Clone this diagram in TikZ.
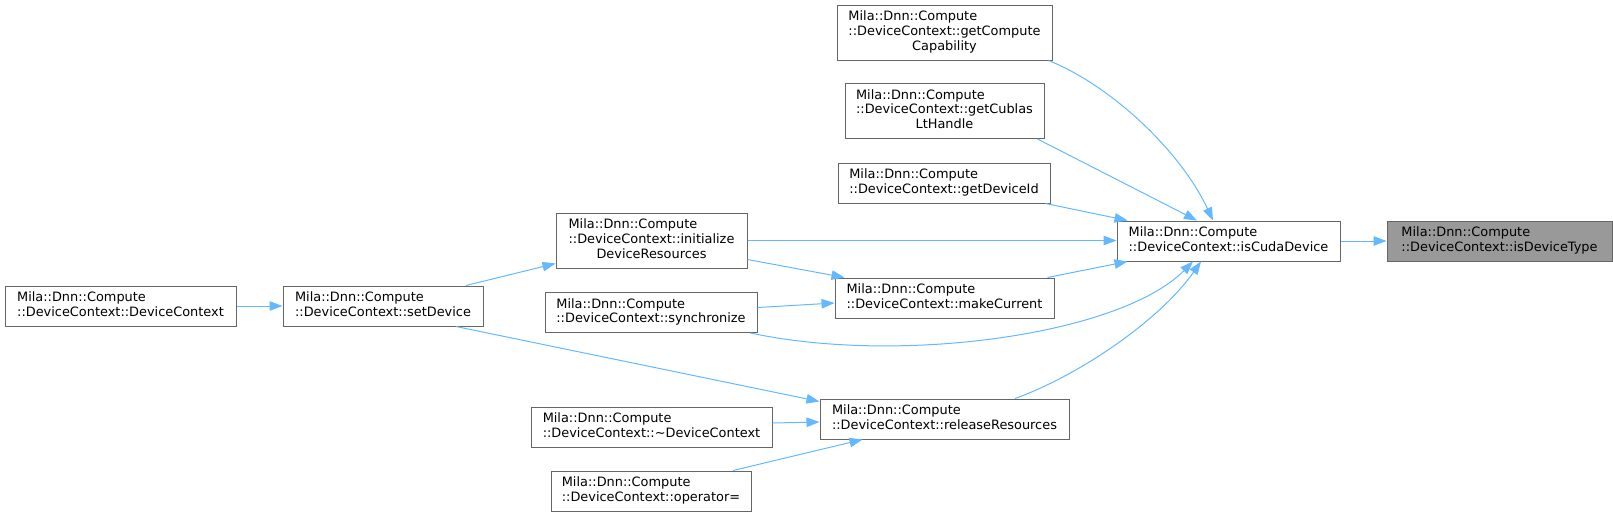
\documentclass[tikz,border=0pt]{standalone}
\usepackage{fontspec}
\setmainfont{DejaVu Sans}
\usetikzlibrary{arrows.meta, calc}
\usepackage{xcolor}
\definecolor{edgeblue}{RGB}{99,184,255}
\definecolor{boxgray}{RGB}{102,102,102}
\definecolor{rootgray}{RGB}{153,153,153}
\newcommand{\fnlabel}[2]{\begin{tabular}{@{}l@{}}#1\\\multicolumn{1}{@{}c@{}}{#2}\end{tabular}}

\begin{document}
\begin{tikzpicture}[
                x=1pt, y=-1pt,
                funcnode/.style={shape=rectangle, draw=boxgray, fill=white, line width=1pt, inner sep=0pt, font=\fontsize{12.9}{14.7}\selectfont},
                rootnode/.style={funcnode, fill=rootgray},
                callarrow/.style={draw=edgeblue, line width=1pt, -{Triangle[length=13pt, width=9.5pt]}}
                ]
                \useasboundingbox (0,0) rectangle (1613,517);

                %% Nodes
                \node[rootnode, minimum width=225pt, minimum height=40pt] (devtype) at (1499.5,241) {\fnlabel{Mila::Dnn::Compute}{::DeviceContext::isDeviceType}};
                \node[funcnode, minimum width=223pt, minimum height=40pt] (iscuda) at (1228.5,241) {\fnlabel{Mila::Dnn::Compute}{::DeviceContext::isCudaDevice}};

                \node[funcnode, minimum width=215pt, minimum height=55pt] (getcc) at (944.5,32.5) {\fnlabel{Mila::Dnn::Compute\\::DeviceContext::getCompute}{Capability}};
                \node[funcnode, minimum width=199pt, minimum height=55pt] (getcublas) at (944.5,111) {\fnlabel{Mila::Dnn::Compute\\::DeviceContext::getCublas}{LtHandle}};
                \node[funcnode, minimum width=212pt, minimum height=40pt] (getid) at (944,183) {\fnlabel{Mila::Dnn::Compute}{::DeviceContext::getDeviceId}};
                \node[funcnode, minimum width=219pt, minimum height=40pt] (makecur) at (944.5,298) {\fnlabel{Mila::Dnn::Compute}{::DeviceContext::makeCurrent}};
                \node[funcnode, minimum width=249pt, minimum height=40pt] (release) at (944.5,419) {\fnlabel{Mila::Dnn::Compute}{::DeviceContext::releaseResources}};

                \node[funcnode, minimum width=191pt, minimum height=55pt] (initres) at (651.5,240.5) {\fnlabel{Mila::Dnn::Compute\\::DeviceContext::initialize}{DeviceResources}};
                \node[funcnode, minimum width=212pt, minimum height=40pt] (sync) at (651,312.5) {\fnlabel{Mila::Dnn::Compute}{::DeviceContext::synchronize}};
                \node[funcnode, minimum width=241pt, minimum height=40pt] (dtor) at (651.5,427) {\fnlabel{Mila::Dnn::Compute}{::DeviceContext::\textasciitilde DeviceContext}};
                \node[funcnode, minimum width=200pt, minimum height=40pt] (opassign) at (651,491) {\fnlabel{Mila::Dnn::Compute}{::DeviceContext::operator=}};

                \node[funcnode, minimum width=200pt, minimum height=40pt] (setdev) at (383,306) {\fnlabel{Mila::Dnn::Compute}{::DeviceContext::setDevice}};
                \node[funcnode, minimum width=231pt, minimum height=40pt] (ctor) at (120.5,306) {\fnlabel{Mila::Dnn::Compute}{::DeviceContext::DeviceContext}};

                %% Calls
                \draw[callarrow] (iscuda.east) -- (devtype.west);

                % into isCudaDevice
                \draw[callarrow] ($(getcc.south east)+(-4,0)$) .. controls (1110,85) and (1180,150) .. ($(iscuda.north)+(-15.5,0)$);
                \draw[callarrow] ($(getcublas.south east)+(-7,0)$) -- ($(iscuda.north)+(-31.5,0)$);
                \draw[callarrow] ($(getid.south east)+(-5,0)$) -- ($(iscuda.north west)+(11,0)$);
                \draw[callarrow] (initres.east) -- (initres.east -| iscuda.west);
                \draw[callarrow] ($(makecur.north east)+(-7,0)$) -- ($(iscuda.south west)+(11,0)$);
                \draw[callarrow] ($(sync.south east)+(-7,0)$) .. controls (900,365) and (1120,335) .. ($(iscuda.south)+(-35.5,0)$);
                \draw[callarrow] ($(release.north)+(70.5,0)$) .. controls (1080,375) and (1160,320) .. ($(iscuda.south)+(-27.5,0)$);

                % into makeCurrent
                \draw[callarrow] ($(initres.south east)+(0,-9)$) -- ($(makecur.north west)+(10,0)$);
                \draw[callarrow] ($(sync.east)+(0,-5)$) -- ($(makecur.west)+(0,5)$);

                % into releaseResources
                \draw[callarrow] ($(setdev.south)+(73,0)$) -- ($(release.north west)+(0,3)$);
                \draw[callarrow] ($(dtor.east)+(0,-4)$) -- ($(release.west)+(0,3)$);
                \draw[callarrow] ($(opassign.north)+(82,0)$) -- ($(release.south west)+(43,0)$);

                % setDevice
                \draw[callarrow] ($(setdev.north)+(83,0)$) -- ($(initres.south west)+(0,-5)$);
                \draw[callarrow] (ctor.east) -- (setdev.west);
\end{tikzpicture}
\end{document}
